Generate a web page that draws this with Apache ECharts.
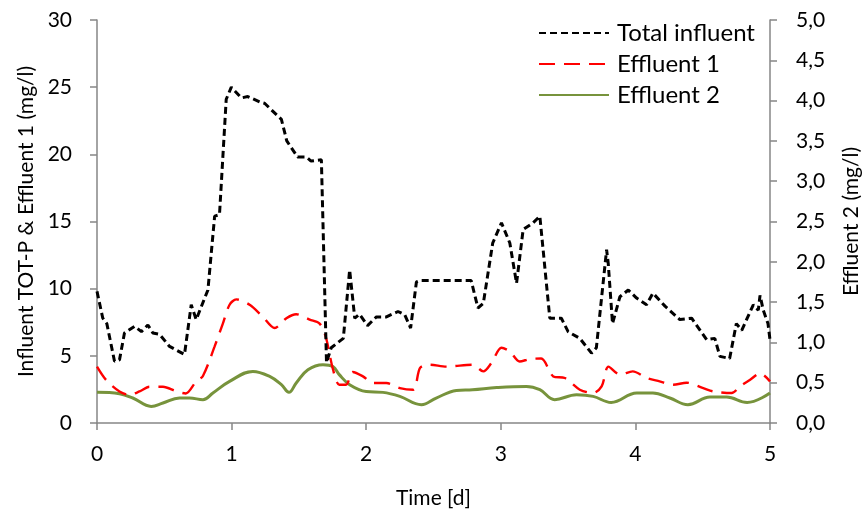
<!DOCTYPE html>
<html>
<head>
<meta charset="utf-8">
<script src="https://cdn.jsdelivr.net/npm/echarts@6/dist/echarts.min.js"></script>
<style>
  html, body { margin: 0; padding: 0; background: #fff; }
  #chart { width: 866px; height: 513px; }
</style>
</head>
<body>
<div id="chart"></div>
<script>
// Time axis in days
const xTicks = [0, 1, 2, 3, 4, 5];

// Total influent TOT-P (mg/l)
const influentTime = [0, 0.043, 0.073, 0.13, 0.167, 0.204, 0.279, 0.33, 0.378, 0.415, 0.465, 0.539, 0.65, 0.70, 0.737, 0.824, 0.874, 0.91, 0.96, 0.998, 1.072, 1.12, 1.21, 1.245, 1.37, 1.41, 1.49, 1.555, 1.59, 1.667, 1.705, 1.74, 1.83, 1.877, 1.915, 1.95, 2.01, 2.076, 2.15, 2.236, 2.286, 2.33, 2.373, 2.40, 2.78, 2.83, 2.87, 2.94, 3.005, 3.067, 3.117, 3.166, 3.24, 3.29, 3.364, 3.45, 3.5, 3.587, 3.674, 3.71, 3.786, 3.798, 3.83, 3.885, 3.947, 4.009, 4.083, 4.13, 4.22, 4.33, 4.418, 4.53, 4.59, 4.628, 4.70, 4.75, 4.79, 4.876, 4.913, 4.926, 4.95, 4.985, 5.0];
const influentValue = [9.8, 7.8, 7.4, 4.6, 4.7, 6.7, 7.2, 6.8, 7.3, 6.7, 6.6, 5.7, 5.1, 8.8, 7.7, 9.9, 15.4, 15.5, 24.1, 25.0, 24.2, 24.3, 23.9, 23.8, 22.6, 21.0, 19.8, 19.8, 19.5, 19.6, 4.5, 5.6, 6.3, 11.4, 7.8, 8.1, 7.25, 7.9, 7.9, 8.3, 8.06, 7.07, 10.5, 10.6, 10.6, 8.56, 8.9, 13.4, 14.9, 13.4, 10.4, 14.4, 14.9, 15.4, 7.8, 7.8, 6.8, 6.3, 5.2, 5.6, 12.9, 11.9, 7.4, 9.4, 9.9, 9.3, 8.8, 9.67, 8.7, 7.7, 7.8, 6.2, 6.3, 4.96, 4.8, 7.4, 6.9, 8.8, 8.4, 9.5, 8.4, 7.4, 6.2];

// Effluent 1 (mg/l)
const eff1Time = [0, 0.068, 0.167, 0.24, 0.316, 0.39, 0.49, 0.59, 0.66, 0.737, 0.787, 0.874, 0.935, 0.985, 1.035, 1.134, 1.233, 1.32, 1.407, 1.48, 1.58, 1.654, 1.70, 1.753, 1.80, 1.85, 1.90, 1.976, 2.05, 2.15, 2.25, 2.35, 2.40, 2.47, 2.596, 2.79, 2.87, 2.93, 3.005, 3.067, 3.14, 3.216, 3.30, 3.39, 3.476, 3.587, 3.686, 3.749, 3.8, 3.885, 3.98, 4.083, 4.18, 4.28, 4.38, 4.504, 4.578, 4.715, 4.777, 4.85, 4.926, 5.0];
const eff1Value = [4.2, 3.2, 2.35, 2.1, 2.35, 2.7, 2.7, 2.35, 2.2, 3.1, 3.5, 5.7, 7.4, 8.8, 9.2, 8.8, 7.9, 7.07, 7.8, 8.1, 7.7, 7.4, 6.4, 4.0, 2.85, 2.85, 3.8, 3.47, 2.98, 2.98, 2.6, 2.48, 4.1, 4.34, 4.2, 4.34, 3.84, 4.46, 5.6, 5.33, 4.58, 4.76, 4.8, 3.47, 3.35, 2.48, 2.23, 2.72, 4.2, 3.6, 3.84, 3.35, 3.1, 2.85, 3.0, 2.6, 2.35, 2.23, 2.72, 3.2, 3.7, 3.1];

// Effluent 2 (mg/l), right axis
const eff2Time = [0, 0.167, 0.266, 0.403, 0.49, 0.613, 0.688, 0.787, 0.861, 0.985, 1.158, 1.283, 1.37, 1.426, 1.48, 1.567, 1.679, 1.753, 1.80, 1.877, 2.0, 2.125, 2.25, 2.41, 2.52, 2.67, 2.79, 2.97, 3.19, 3.29, 3.40, 3.563, 3.686, 3.82, 4.01, 4.13, 4.256, 4.39, 4.554, 4.678, 4.83, 5.0];
const eff2Value = [0.38, 0.363, 0.31, 0.206, 0.248, 0.31, 0.31, 0.289, 0.372, 0.516, 0.64, 0.578, 0.475, 0.38, 0.496, 0.66, 0.723, 0.70, 0.6, 0.475, 0.39, 0.38, 0.33, 0.227, 0.31, 0.404, 0.413, 0.44, 0.454, 0.413, 0.29, 0.35, 0.33, 0.255, 0.372, 0.372, 0.31, 0.227, 0.322, 0.322, 0.255, 0.372];

const seriesNames = ['Total influent', 'Effluent 1', 'Effluent 2'];

const zip = (xs, ys) => xs.map((x, i) => [x, ys[i]]);

const FONT = 'Lato';
const axisGrey = '#868686';
const AXIS_FONT = 21;

const chart = echarts.init(document.getElementById('chart'), null, { renderer: 'canvas' });

chart.setOption({
  animation: false,
  backgroundColor: '#ffffff',
  textStyle: { fontFamily: FONT },
  grid: { left: 97, right: 96, top: 20, bottom: 90, containLabel: false, outerBoundsMode: 'none' },
  legend: {
    orient: 'vertical',
    left: 538,
    top: 21,
    padding: 0,
    itemWidth: 70,
    itemHeight: 14,
    itemGap: 7,
    // line-only legend keys (no marker dot)
    itemStyle: { opacity: 0 },
    textStyle: { fontFamily: FONT, fontSize: 24, color: '#000', padding: [0, 0, 0, 3] },
    data: seriesNames
  },
  xAxis: {
    type: 'value',
    min: xTicks[0],
    max: xTicks[xTicks.length - 1],
    interval: 1,
    name: 'Time [d]',
    nameLocation: 'middle',
    nameGap: 65,
    nameTextStyle: { fontFamily: FONT, fontSize: AXIS_FONT, color: '#000' },
    axisLine: { show: true, onZero: false, lineStyle: { color: axisGrey, width: 1.5 } },
    axisTick: { show: true, length: 7, lineStyle: { color: axisGrey, width: 1.5 } },
    axisLabel: { fontFamily: FONT, fontSize: AXIS_FONT, color: '#000', margin: 21 },
    splitLine: { show: false }
  },
  yAxis: [
    {
      type: 'value',
      position: 'left',
      min: 0, max: 30, interval: 5,
      name: 'Influent TOT-P & Effluent 1 (mg/l)',
      nameLocation: 'middle',
      nameRotate: 90,
      nameGap: 60,
      nameTextStyle: { fontFamily: FONT, fontSize: AXIS_FONT, color: '#000' },
      axisLine: { show: true, lineStyle: { color: axisGrey, width: 1.5 } },
      axisTick: { show: true, length: 7, lineStyle: { color: axisGrey, width: 1.5 } },
      axisLabel: { fontFamily: FONT, fontSize: AXIS_FONT, color: '#000', margin: 25 },
      splitLine: { show: false }
    },
    {
      type: 'value',
      position: 'right',
      min: 0, max: 5, interval: 0.5,
      name: 'Effluent 2 (mg/l)',
      nameLocation: 'middle',
      nameRotate: 90,
      nameGap: 71,
      nameTextStyle: { fontFamily: FONT, fontSize: AXIS_FONT, color: '#000' },
      axisLine: { show: true, lineStyle: { color: axisGrey, width: 1.5 } },
      axisTick: { show: true, length: 7, lineStyle: { color: axisGrey, width: 1.5 } },
      axisLabel: {
        fontFamily: FONT, fontSize: AXIS_FONT, color: '#000', margin: 26,
        formatter: v => v.toFixed(1).replace('.', ',')
      },
      splitLine: { show: false }
    }
  ],
  series: [
    {
      name: seriesNames[0],
      type: 'line',
      yAxisIndex: 0,
      symbol: 'none',
      smooth: false,
      data: zip(influentTime, influentValue),
      lineStyle: { color: '#000000', width: 3, type: [7, 4] },
      itemStyle: { color: '#000000' },
      z: 3
    },
    {
      name: seriesNames[1],
      type: 'line',
      yAxisIndex: 0,
      symbol: 'none',
      smooth: 0.3,
      data: zip(eff1Time, eff1Value),
      lineStyle: { color: '#ff0000', width: 2.4, type: [16, 9] },
      itemStyle: { color: '#ff0000' },
      z: 2
    },
    {
      name: seriesNames[2],
      type: 'line',
      yAxisIndex: 1,
      symbol: 'none',
      smooth: 0.4,
      data: zip(eff2Time, eff2Value),
      lineStyle: { color: '#77933c', width: 3 },
      itemStyle: { color: '#77933c' },
      z: 1
    }
  ]
});
</script>
</body>
</html>
